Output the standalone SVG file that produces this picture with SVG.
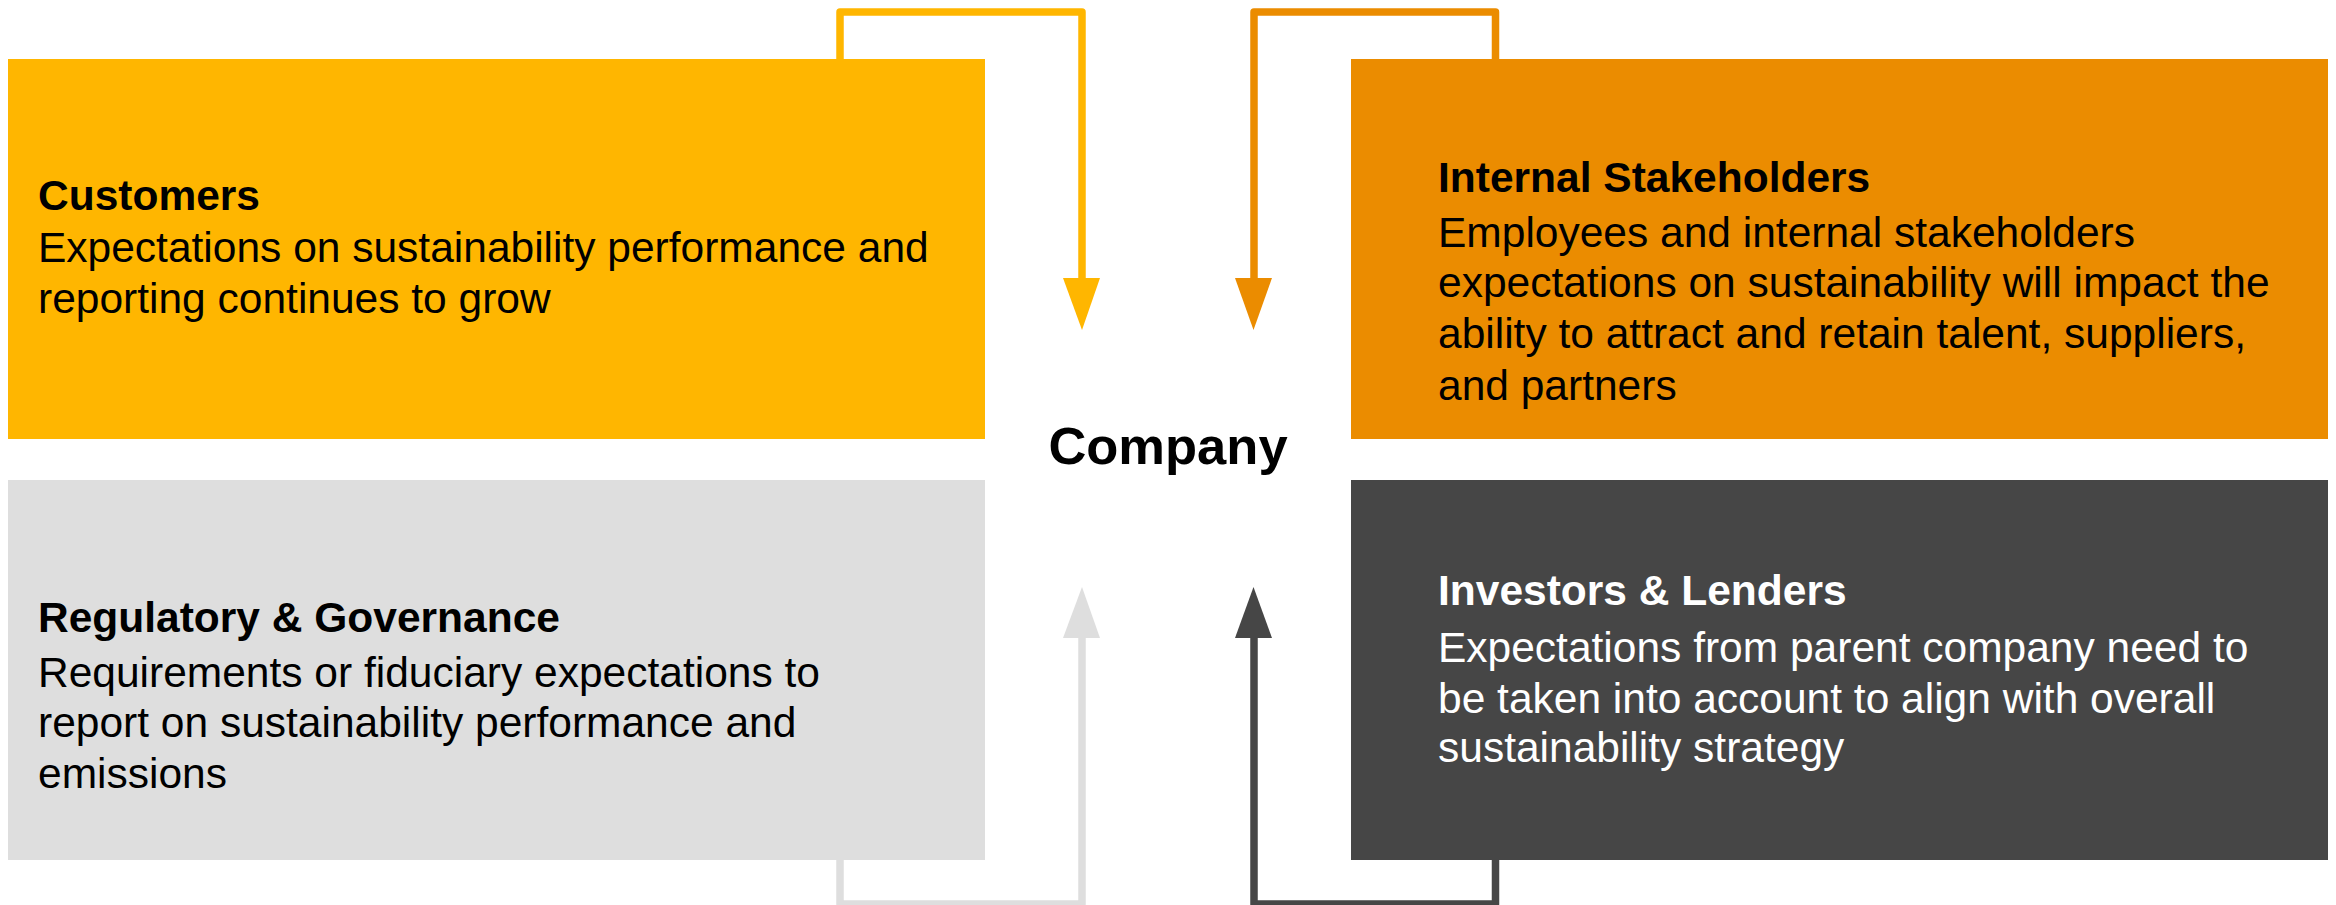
<svg xmlns="http://www.w3.org/2000/svg" width="2336" height="905" viewBox="0 0 2336 905">
  <style>
    text { font-family: "Liberation Sans", Arial, sans-serif; font-size: 42.5px; }
    .title { font-weight: bold; }
    .dark { fill: #000000; }
    .light { fill: #FFFFFF; }
    .link { fill: none; stroke-width: 7.5; stroke-linejoin: round; }
    .center { font-size: 52.5px; font-weight: bold; fill: #000000; }
  </style>

  <rect width="2336" height="905" fill="#FFFFFF"/>

  <!-- feedback loops into the company -->
  <g id="connectors">
    <path class="link" stroke="#FFB600" d="M840 59 V12 H1082 V280"/>
    <polygon fill="#FFB600" points="1063,278 1100,278 1082,330"/>

    <path class="link" stroke="#EB8C00" d="M1495.5 59 V12 H1254 V280"/>
    <polygon fill="#EB8C00" points="1235,278 1272,278 1253.5,330"/>

    <path class="link" stroke="#DEDEDE" d="M840 860 V904 H1082 V636"/>
    <polygon fill="#DEDEDE" points="1063,638 1100,638 1082,587"/>

    <path class="link" stroke="#464646" d="M1495.5 860 V904 H1254 V636"/>
    <polygon fill="#464646" points="1235,638 1272,638 1253.5,587"/>
  </g>

  <g id="customers">
    <rect x="8" y="59" width="977" height="380" fill="#FFB600"/>
    <text class="title dark" x="38" y="210">Customers</text>
    <text class="dark" x="38" y="262">Expectations on sustainability performance and</text>
    <text class="dark" x="38" y="313">reporting continues to grow</text>
  </g>

  <g id="internal-stakeholders">
    <rect x="1351" y="59" width="977" height="380" fill="#EB8C00"/>
    <text class="title dark" x="1438" y="192">Internal Stakeholders</text>
    <text class="dark" x="1438" y="247">Employees and internal stakeholders</text>
    <text class="dark" x="1438" y="297">expectations on sustainability will impact the</text>
    <text class="dark" x="1438" y="348">ability to attract and retain talent, suppliers,</text>
    <text class="dark" x="1438" y="400">and partners</text>
  </g>

  <g id="regulatory-governance">
    <rect x="8" y="480" width="977" height="380" fill="#DEDEDE"/>
    <text class="title dark" x="38" y="632">Regulatory &amp; Governance</text>
    <text class="dark" x="38" y="687">Requirements or fiduciary expectations to</text>
    <text class="dark" x="38" y="737">report on sustainability performance and</text>
    <text class="dark" x="38" y="788">emissions</text>
  </g>

  <g id="investors-lenders">
    <rect x="1351" y="480" width="977" height="380" fill="#464646"/>
    <text class="title light" x="1438" y="605">Investors &amp; Lenders</text>
    <text class="light" x="1438" y="662">Expectations from parent company need to</text>
    <text class="light" x="1438" y="713">be taken into account to align with overall</text>
    <text class="light" x="1438" y="762">sustainability strategy</text>
  </g>

  <g id="company">
    <text class="center" x="1168" y="464" text-anchor="middle">Company</text>
  </g>
</svg>
